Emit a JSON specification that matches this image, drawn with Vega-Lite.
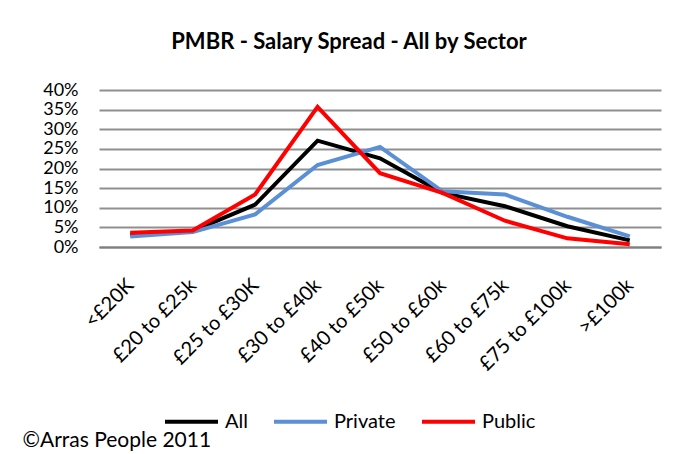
{
  "$schema": "https://vega.github.io/schema/vega-lite/v6.json",
  "autosize": "none",
  "width": 562,
  "height": 157,
  "padding": {"left": 99, "top": 90, "right": 39, "bottom": 207},
  "background": "white",
  "title": {
    "text": "PMBR - Salary Spread - All by Sector",
    "font": "Lato",
    "fontSize": 22,
    "fontWeight": "bold",
    "color": "#000000",
    "anchor": "middle",
    "dx": -31,
    "offset": 27
  },
  "data": {
    "values": [
      {"band": "<£20K", "series": "All", "value": 0.031},
      {"band": "£20 to £25k", "series": "All", "value": 0.041},
      {"band": "£25 to £30K", "series": "All", "value": 0.108},
      {"band": "£30 to £40k", "series": "All", "value": 0.271},
      {"band": "£40 to £50k", "series": "All", "value": 0.226},
      {"band": "£50 to £60k", "series": "All", "value": 0.138},
      {"band": "£60 to £75k", "series": "All", "value": 0.104},
      {"band": "£75 to £100k", "series": "All", "value": 0.053},
      {"band": ">£100k", "series": "All", "value": 0.017},
      {"band": "<£20K", "series": "Private", "value": 0.027},
      {"band": "£20 to £25k", "series": "Private", "value": 0.038},
      {"band": "£25 to £30K", "series": "Private", "value": 0.083},
      {"band": "£30 to £40k", "series": "Private", "value": 0.209},
      {"band": "£40 to £50k", "series": "Private", "value": 0.255},
      {"band": "£50 to £60k", "series": "Private", "value": 0.142},
      {"band": "£60 to £75k", "series": "Private", "value": 0.134},
      {"band": "£75 to £100k", "series": "Private", "value": 0.077},
      {"band": ">£100k", "series": "Private", "value": 0.027},
      {"band": "<£20K", "series": "Public", "value": 0.036},
      {"band": "£20 to £25k", "series": "Public", "value": 0.042},
      {"band": "£25 to £30K", "series": "Public", "value": 0.134},
      {"band": "£30 to £40k", "series": "Public", "value": 0.357},
      {"band": "£40 to £50k", "series": "Public", "value": 0.188},
      {"band": "£50 to £60k", "series": "Public", "value": 0.138},
      {"band": "£60 to £75k", "series": "Public", "value": 0.067},
      {"band": "£75 to £100k", "series": "Public", "value": 0.022},
      {"band": ">£100k", "series": "Public", "value": 0.007}
    ]
  },
  "mark": {"type": "line", "strokeWidth": 4, "strokeJoin": "miter"},
  "encoding": {
    "x": {
      "field": "band",
      "type": "nominal",
      "sort": null,
      "scale": {"type": "point", "padding": 0.5},
      "axis": {
        "title": "©Arras People 2011",
        "titleFont": "Lato",
        "titleFontSize": 21,
        "titleFontWeight": "normal",
        "titleColor": "#000000",
        "titleAnchor": "start",
        "titleAlign": "left",
        "titleBaseline": "middle",
        "titleX": -77,
        "titleY": 193,
        "labelAngle": -45,
        "labelAlign": "right",
        "labelBaseline": "middle",
        "labelFont": "Lato",
        "labelFontSize": 20,
        "labelColor": "#000000",
        "labelPadding": 35,
        "labelDx": 15,
        "ticks": false,
        "domain": true,
        "domainColor": "#7f7f7f",
        "domainWidth": 2,
        "grid": false
      }
    },
    "y": {
      "field": "value",
      "type": "quantitative",
      "scale": {"domain": [0, 0.4], "nice": false},
      "axis": {
        "title": null,
        "format": ".0%",
        "values": [0, 0.05, 0.1, 0.15, 0.2, 0.25, 0.3, 0.35, 0.4],
        "labelFont": "Lato",
        "labelFontSize": 18,
        "labelColor": "#000000",
        "labelPadding": 21,
        "ticks": false,
        "domain": false,
        "grid": true,
        "gridColor": "#8f8f8f",
        "gridWidth": 2
      }
    },
    "color": {
      "field": "series",
      "type": "nominal",
      "scale": {"domain": ["All", "Private", "Public"], "range": ["#000000", "#5B8FD6", "#FF0000"]},
      "legend": {
        "title": null,
        "orient": "none",
        "direction": "horizontal",
        "legendX": 64,
        "legendY": 303,
        "symbolType": "stroke",
        "symbolStrokeWidth": 4,
        "symbolSize": 2809,
        "labelFont": "Lato",
        "labelFontSize": 20,
        "labelColor": "#000000",
        "labelOffset": 5,
        "columnPadding": 18
      }
    }
  },
  "config": {"view": {"stroke": null}}
}
